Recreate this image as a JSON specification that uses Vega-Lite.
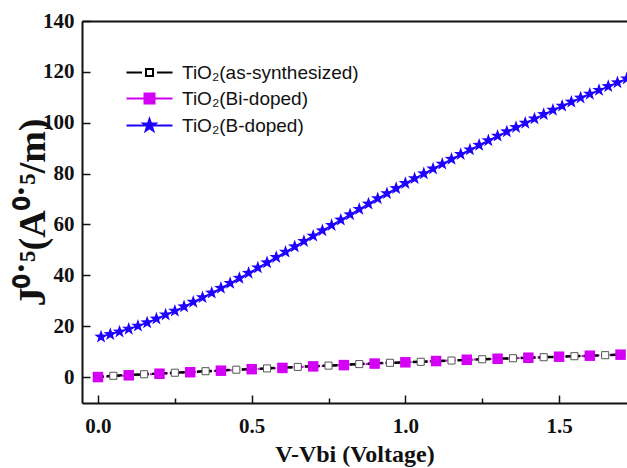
{
  "$schema": "https://vega.github.io/schema/vega-lite/v6.json",
  "autosize": {"type": "none"},
  "padding": {"left": 82, "top": 21, "right": 0, "bottom": 65},
  "width": 545,
  "height": 382,
  "background": "white",
  "config": {
    "view": {"stroke": null},
    "axis": {
      "grid": false,
      "domainColor": "#111111",
      "domainWidth": 2,
      "tickColor": "#111111",
      "tickWidth": 1.5,
      "labelFont": "Liberation Serif",
      "labelFontWeight": "bold",
      "labelFontSize": 21,
      "labelColor": "#111111",
      "titleFont": "Liberation Serif",
      "titleFontWeight": "bold",
      "titleFontSize": 24,
      "titleColor": "#111111",
      "labelFlush": false
    }
  },
  "datasets": {
    "bi": [
      {"x": 0.0, "y": 0.0}, {"x": 0.1, "y": 0.7}, {"x": 0.2, "y": 1.3}, {"x": 0.3, "y": 1.9},
      {"x": 0.4, "y": 2.5}, {"x": 0.5, "y": 3.1}, {"x": 0.6, "y": 3.6}, {"x": 0.7, "y": 4.2},
      {"x": 0.8, "y": 4.7}, {"x": 0.9, "y": 5.3}, {"x": 1.0, "y": 5.8}, {"x": 1.1, "y": 6.3},
      {"x": 1.2, "y": 6.8}, {"x": 1.3, "y": 7.2}, {"x": 1.4, "y": 7.6}, {"x": 1.5, "y": 8.0},
      {"x": 1.6, "y": 8.4}, {"x": 1.7, "y": 8.8}
    ],
    "as": [
      {"x": 0.0, "y": 0.0}, {"x": 0.05, "y": 0.5}, {"x": 0.15, "y": 1.1}, {"x": 0.25, "y": 1.7},
      {"x": 0.35, "y": 2.3}, {"x": 0.45, "y": 2.9}, {"x": 0.55, "y": 3.4}, {"x": 0.65, "y": 4.0},
      {"x": 0.75, "y": 4.5}, {"x": 0.85, "y": 5.1}, {"x": 0.95, "y": 5.6}, {"x": 1.05, "y": 6.0},
      {"x": 1.15, "y": 6.5}, {"x": 1.25, "y": 7.0}, {"x": 1.35, "y": 7.4}, {"x": 1.45, "y": 7.8},
      {"x": 1.55, "y": 8.2}, {"x": 1.65, "y": 8.6}, {"x": 1.75, "y": 9.0}
    ],
    "b": [
      {"x": 0.01, "y": 15.8}, {"x": 0.04, "y": 16.8}, {"x": 0.07, "y": 17.8}, {"x": 0.10, "y": 18.9},
      {"x": 0.13, "y": 20.1}, {"x": 0.16, "y": 21.4}, {"x": 0.19, "y": 22.9}, {"x": 0.22, "y": 24.5},
      {"x": 0.25, "y": 26.0}, {"x": 0.28, "y": 27.7}, {"x": 0.31, "y": 29.5}, {"x": 0.34, "y": 31.3},
      {"x": 0.37, "y": 33.1}, {"x": 0.40, "y": 35.0}, {"x": 0.43, "y": 36.9}, {"x": 0.46, "y": 38.9},
      {"x": 0.49, "y": 40.9}, {"x": 0.52, "y": 43.0}, {"x": 0.55, "y": 45.0}, {"x": 0.58, "y": 47.1},
      {"x": 0.61, "y": 49.2}, {"x": 0.64, "y": 51.3}, {"x": 0.67, "y": 53.4}, {"x": 0.70, "y": 55.5},
      {"x": 0.73, "y": 57.6}, {"x": 0.76, "y": 59.7}, {"x": 0.79, "y": 61.8}, {"x": 0.82, "y": 63.9},
      {"x": 0.85, "y": 66.0}, {"x": 0.88, "y": 68.1}, {"x": 0.91, "y": 70.2}, {"x": 0.94, "y": 72.2},
      {"x": 0.97, "y": 74.2}, {"x": 1.00, "y": 76.2}, {"x": 1.03, "y": 78.1}, {"x": 1.06, "y": 80.0},
      {"x": 1.09, "y": 81.9}, {"x": 1.12, "y": 83.8}, {"x": 1.15, "y": 85.7}, {"x": 1.18, "y": 87.6},
      {"x": 1.21, "y": 89.4}, {"x": 1.24, "y": 91.2}, {"x": 1.27, "y": 93.0}, {"x": 1.30, "y": 94.8},
      {"x": 1.33, "y": 96.5}, {"x": 1.36, "y": 98.2}, {"x": 1.39, "y": 99.9}, {"x": 1.42, "y": 101.6},
      {"x": 1.45, "y": 103.3}, {"x": 1.48, "y": 105.0}, {"x": 1.51, "y": 106.6}, {"x": 1.54, "y": 108.2},
      {"x": 1.57, "y": 109.8}, {"x": 1.60, "y": 111.3}, {"x": 1.63, "y": 112.8}, {"x": 1.66, "y": 114.3},
      {"x": 1.69, "y": 115.8}, {"x": 1.72, "y": 117.3}
    ],
    "legend": [
      {"s": "TiO₂(as-synthesized)"}, {"s": "TiO₂(Bi-doped)"}, {"s": "TiO₂(B-doped)"}
    ]
  },
  "resolve": {"axis": {"x": "independent"}},
  "layer": [
    {
      "data": {"name": "bi"},
      "mark": {"type": "line", "color": "#d400f5", "strokeWidth": 2, "strokeDash": [2, 2], "clip": true},
      "encoding": {
        "x": {
          "field": "x", "type": "quantitative",
          "scale": {"domain": [-0.052, 1.721], "nice": false, "zero": false},
          "axis": {
            "orient": "bottom",
            "title": "V-Vbi (Voltage)",
            "titlePadding": 6,
            "values": [0, 0.25, 0.5, 0.75, 1, 1.25, 1.5],
            "format": ".1f",
            "labelExpr": "(datum.value * 2) % 1 === 0 ? datum.label : ''",
            "tickSize": {"condition": {"test": "(datum.value * 2) % 1 === 0", "value": -8}, "value": -5},
            "labelPadding": 20
          }
        },
        "y": {
          "field": "y", "type": "quantitative",
          "scale": {"domain": [-10.2, 140], "nice": false, "zero": false},
          "axis": {
            "title": "J⁰˙⁵(A⁰˙⁵/m)",
            "titleFontSize": 38,
            "titleX": -30,
            "titleBaseline": "bottom",
            "values": [0, 10, 20, 30, 40, 50, 60, 70, 80, 90, 100, 110, 120, 130, 140],
            "labelExpr": "datum.value % 20 === 0 ? datum.label : ''",
            "tickSize": {"condition": {"test": "datum.value % 20 === 0", "value": -8}, "value": -5},
            "labelPadding": 16
          }
        }
      }
    },
    {
      "data": {"name": "as"},
      "mark": {"type": "line", "color": "#000000", "strokeWidth": 2.5, "strokeDash": [6, 3], "clip": true},
      "encoding": {
        "x": {"field": "x", "type": "quantitative", "axis": null},
        "y": {"field": "y", "type": "quantitative"}
      }
    },
    {
      "data": {"name": "b"},
      "mark": {"type": "line", "color": "#1e00ff", "strokeWidth": 1.5, "clip": true},
      "encoding": {
        "x": {
          "field": "x", "type": "quantitative",
          "axis": {"orient": "top", "labels": false, "ticks": false, "domain": true, "title": null}
        },
        "y": {"field": "y", "type": "quantitative"}
      }
    },
    {
      "data": {"name": "as"},
      "mark": {"type": "point", "shape": "square", "filled": true, "fill": "#ffffff", "stroke": "#555555", "strokeWidth": 1, "size": 50, "opacity": 1, "clip": true},
      "encoding": {
        "x": {"field": "x", "type": "quantitative", "axis": null},
        "y": {"field": "y", "type": "quantitative"}
      }
    },
    {
      "data": {"name": "bi"},
      "mark": {"type": "point", "shape": "square", "filled": true, "color": "#d400f5", "size": 110, "opacity": 1, "clip": true},
      "encoding": {
        "x": {"field": "x", "type": "quantitative", "axis": null},
        "y": {"field": "y", "type": "quantitative"}
      }
    },
    {
      "data": {"name": "b"},
      "mark": {"type": "point", "shape": "M0,-1L0.235,-0.324L0.951,-0.309L0.380,0.124L0.588,0.809L0,0.4L-0.588,0.809L-0.380,0.124L-0.951,-0.309L-0.235,-0.324Z", "filled": true, "color": "#1e00ff", "size": 196, "opacity": 1, "clip": true},
      "encoding": {
        "x": {"field": "x", "type": "quantitative", "axis": null},
        "y": {"field": "y", "type": "quantitative"}
      }
    },
    {
      "data": {"name": "legend"},
      "mark": {"type": "point", "opacity": 0, "filled": true, "size": 100},
      "encoding": {
        "shape": {
          "field": "s", "type": "nominal",
          "scale": {
            "domain": ["TiO₂(as-synthesized)", "TiO₂(Bi-doped)", "TiO₂(B-doped)"],
            "range": [
              "M-4.6,0H-1.5M1.5,0H4.6M-0.7,-0.7H0.7V0.7H-0.7Z",
              "M-4.6,0H4.6M-1,-1H1V1H-1Z",
              "M-4.6,0H4.6M0,-1.3L0.306,-0.421L1.236,-0.402L0.495,0.161L0.764,1.052L0,0.52L-0.764,1.052L-0.495,0.161L-1.236,-0.402L-0.306,-0.421Z"
            ]
          },
          "legend": {
            "orient": "none",
            "legendX": 58,
            "legendY": 42,
            "title": null,
            "padding": 0,
            "labelFont": "Liberation Sans",
            "labelFontSize": 19,
            "labelColor": "#111111",
            "labelLimit": 400,
            "labelOffset": 23,
            "rowPadding": 6,
            "symbolSize": 100,
            "symbolStrokeWidth": 2,
            "symbolOpacity": 1
          }
        },
        "stroke": {
          "field": "s", "type": "nominal",
          "scale": {
            "domain": ["TiO₂(as-synthesized)", "TiO₂(Bi-doped)", "TiO₂(B-doped)"],
            "range": ["#000000", "#d400f5", "#1e00ff"]
          }
        },
        "fill": {
          "field": "s", "type": "nominal",
          "scale": {
            "domain": ["TiO₂(as-synthesized)", "TiO₂(Bi-doped)", "TiO₂(B-doped)"],
            "range": ["#ffffff", "#d400f5", "#1e00ff"]
          }
        }
      }
    }
  ]
}
